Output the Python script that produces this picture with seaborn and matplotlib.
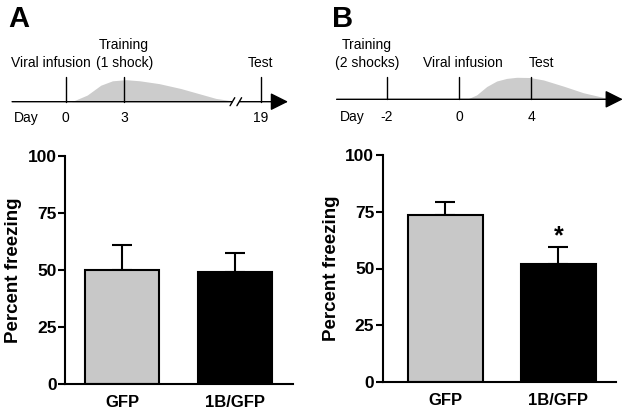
import numpy as np
import pandas as pd
import matplotlib
matplotlib.use('Agg')
import matplotlib.pyplot as plt
import seaborn as sns

# bar data (percent freezing, mean and SEM)
groups = ['GFP', '1B/GFP']
freeze_a = [50.0, 49.3]
sem_a = [11.0, 8.3]
freeze_b = [73.6, 52.2]
sem_b = [5.5, 7.4]
bar_colors = ['#c8c8c8', '#000000']

# timeline events (day, label)
days_a = [0, 3, 19]
events_a = ['Viral infusion', 'Training\n(1 shock)', 'Test']
days_b = [-2, 0, 4]
events_b = ['Training\n(2 shocks)', 'Viral infusion', 'Test']

# schematic expression curve (% of peak)
expr_days_a = [0.3, 1.1, 1.8, 2.4, 3.1, 3.8, 4.8, 5.9, 6.9, 7.7, 8.6]
expr_a = [0, 30, 75, 95, 100, 95, 82, 60, 35, 15, 3]
expr_days_b = [0.43, 0.98, 1.54, 2.09, 2.65, 3.2, 3.94, 4.69, 5.8, 6.9, 8.0, 8.76]
expr_b = [0, 20, 58, 83, 95, 100, 99, 88, 60, 30, 9, 0]

sns.set_theme(style='ticks')
plt.rcParams['font.family'] = ['Liberation Sans', 'DejaVu Sans']
for key in ['text.color', 'axes.labelcolor', 'xtick.color', 'ytick.color', 'axes.edgecolor']:
    plt.rcParams[key] = 'black'

W, H = 629, 413
fig = plt.figure(figsize=(W / 100, H / 100), dpi=100)


def px_axes(left, top, right, bottom):
    return fig.add_axes([left / W, 1 - bottom / H, (right - left) / W, (bottom - top) / H])


def pos_a(d):
    # axis break between day 9 and day 18
    return d if d < 9 else d - 9


def pos_b(d):
    # pre-infusion days drawn at double spacing
    return d if d >= 0 else 2 * d


def draw_timeline(ax, days, events, pos, expr_days, expr, tick_h, num_off, xstart, xtip,
                  day_x, label_dx):
    ax.set_axis_off()
    xs = [pos(d) for d in expr_days]
    ax.fill_between(xs, 0, np.array(expr) * 0.22, color='#cccccc', lw=0, zorder=1)
    ax.annotate('', xy=(xtip, 0), xytext=(xstart, 0),
                arrowprops=dict(arrowstyle='-|>,head_length=0.9,head_width=0.45',
                                color='black', lw=1.0, shrinkA=0, shrinkB=0),
                zorder=3)
    fs = 10
    for d, lab, dx in zip(days, events, label_dx):
        x = pos(d)
        ax.plot([x, x], [0, tick_h], color='black', lw=1.0, zorder=3)
        ax.text(x, -num_off, str(d), ha='center', va='center', fontsize=fs)
        if '\n' in lab:
            l1, l2 = lab.split('\n')
            ax.text(x + dx, tick_h + 32, l1, ha='center', va='center', fontsize=fs)
            ax.text(x + dx, tick_h + 14, l2, ha='center', va='center', fontsize=fs)
        else:
            ax.text(x + dx, tick_h + 14, lab, ha='center', va='center', fontsize=fs)
    ax.text(day_x, -num_off, 'Day', ha='center', va='center', fontsize=fs)


# panel A timeline
axa_t = px_axes(0, 0, 310, 135)
axa_t.set_xlim(-65.7 / 19.5, (310 - 65.7) / 19.5)
axa_t.set_ylim(-33.3, 101.7)
draw_timeline(axa_t, days_a, events_a, pos_a, expr_days_a, expr_a, 24.7, 16.3,
              -2.75, 11.4, -2.0, [-0.75, 0, 0])
# break marks
for bx in [8.55, 8.9]:
    axa_t.plot([bx - 0.12, bx + 0.12], [-4, 4], color='black', lw=1.0, zorder=4)
axa_t.add_patch(plt.Rectangle((8.6, -1.5), 0.25, 3, color='white', zorder=3.5))

# panel B timeline
axb_t = px_axes(310, 0, 629, 135)
axb_t.set_xlim((310 - 459) / 18, (629 - 459) / 18)
axb_t.set_ylim(-35.7, 99.3)
draw_timeline(axb_t, days_b, events_b, pos_b, expr_days_b, expr_b, 22.5, 17.7,
              -6.8, 9.1, -5.95, [-1.1, 0.2, 0.6])

fig.text(8 / W, 1 - 19 / H, 'A', fontsize=21, fontweight='bold', va='center', ha='left')
fig.text(332 / W, 1 - 19 / H, 'B', fontsize=21, fontweight='bold', va='center', ha='left')


def draw_bars(ax, vals, errs, xlim):
    df = pd.DataFrame({'group': groups, 'freezing': vals})
    ax.errorbar(range(len(vals)), vals, yerr=[[0] * len(vals), errs], fmt='none',
                ecolor='black', elinewidth=1.5, capsize=7.5, capthick=1.5, zorder=1)
    sns.barplot(data=df, x='group', y='freezing', hue='group', palette=bar_colors,
                legend=False, width=0.66, edgecolor='black', linewidth=1.5,
                errorbar=None, ax=ax, zorder=2)
    ax.set_ylim(0, 100)
    ax.set_xlim(*xlim)
    ax.set_yticks([0, 25, 50, 75, 100])
    ax.set_xlabel('')
    ax.set_ylabel('Percent freezing', fontsize=13.5, fontweight='bold', labelpad=4)
    ax.tick_params(axis='y', length=5, width=1.5, labelsize=12.5, pad=1)
    ax.tick_params(axis='x', length=0, labelsize=12, pad=8)
    for lab in ax.get_xticklabels() + ax.get_yticklabels():
        lab.set_fontweight('bold')
    for s in ['left', 'bottom']:
        ax.spines[s].set_linewidth(1.5)
    sns.despine(ax=ax)


axa = px_axes(65, 156, 293, 384)
draw_bars(axa, freeze_a, sem_a, (-0.504, 1.513))

axb = px_axes(382.7, 155, 616, 382)
draw_bars(axb, freeze_b, sem_b, (-0.55, 1.507))
axb.text(1, freeze_b[1] + sem_b[1] - 0.6, '*', ha='center', va='bottom', fontsize=18,
         fontweight='bold')

fig.savefig('out.png', dpi=100)
